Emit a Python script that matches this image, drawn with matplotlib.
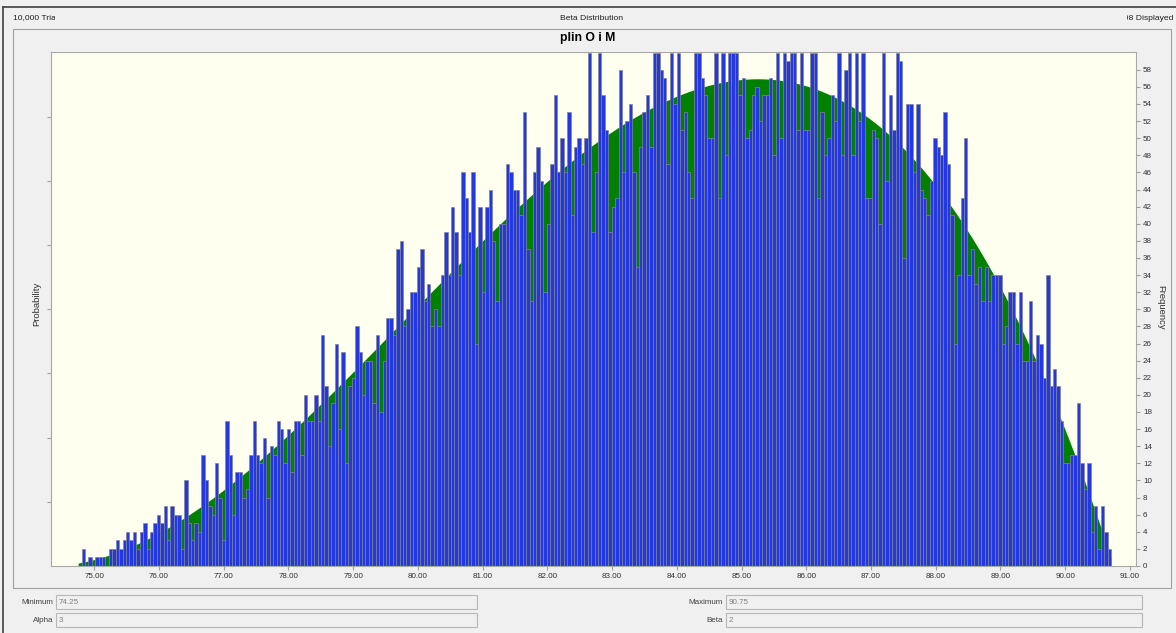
import matplotlib.pyplot as plt
import numpy as np
from math import gamma
from matplotlib.patches import Rectangle
from matplotlib.lines import Line2D
from matplotlib.transforms import Bbox

# Beta distribution parameters shown under the chart
dist_min = 74.25
dist_max = 90.75
alpha = 3
beta = 2
trials = 10000

# span covered by the histogram bars
bin_lo = 74.75
bin_hi = 90.71

# bar frequencies, left to right
freq_1 = [0, 2, 0, 1, 0, 1, 1, 1, 0, 2,
          2, 3, 2, 3, 4, 3, 4, 2, 4, 5,
          2, 4, 5, 6, 5, 7, 3, 7, 6, 6,
          2, 10, 5, 3, 5, 4, 13, 10, 7, 6,
          12, 8, 3, 17, 13, 6, 11, 11, 8, 9,
          13, 17, 13, 12, 15, 8, 14, 13, 17, 16,
          12, 16, 11, 17, 17, 13, 20, 17, 17, 20]
freq_2 = [17, 27, 21, 14, 19, 26, 16, 25, 12, 21,
          22, 28, 25, 20, 24, 24, 19, 27, 18, 24,
          29, 29, 27, 37, 38, 28, 30, 32, 32, 35,
          37, 31, 33, 28, 30, 28, 34, 39, 34, 42,
          39, 34, 46, 43, 39, 46, 26, 42, 32, 42,
          44, 38, 31, 40, 40, 47, 46, 44, 44, 41,
          53, 37, 31, 46, 49, 45, 32, 40, 47, 55,
          46, 50, 46]
freq_3 = [53, 41, 49, 50, 47, 50, 60, 39, 46, 60,
          55, 51, 39, 42, 43, 58, 46, 52, 54, 46,
          35, 49, 53, 55, 49, 60, 60, 58, 57, 47,
          60, 54, 60, 51, 53, 46, 43, 60, 60, 57,
          55, 50, 50, 60, 43, 60, 48, 60, 60, 60,
          55, 57, 50, 51, 55, 56, 52, 55, 55, 57,
          48, 60, 50, 60, 59, 60, 60, 51, 60, 51,
          51, 60, 60, 43, 53, 48, 50]
freq_4 = [55, 52, 60, 48, 58, 60, 48, 60, 52, 60,
          43, 43, 51, 50, 40, 60, 45, 55, 51, 60,
          59, 36, 54, 54, 46, 54, 44, 43, 41, 45,
          50, 49, 48, 53, 47, 41, 26, 34, 43, 50,
          34, 37, 33, 35, 31, 35, 31, 34, 34, 34,
          26, 28, 32, 32, 26, 32, 24, 24, 31, 24,
          27, 26, 22, 34, 21, 23, 21, 17, 12, 12,
          13, 13, 19, 12, 9, 12, 4, 7, 2, 7,
          4, 2]

x_ticks = np.arange(75, 92)
freq_ticks = np.arange(0, 60, 2)
prob_ticks = np.arange(7.5, 60, 7.5)

freq = np.array(freq_1 + freq_2 + freq_3 + freq_4)
n_bins = len(freq)
edges = np.linspace(bin_lo, bin_hi, n_bins + 1)
centers = (edges[:-1] + edges[1:]) / 2
width = edges[1] - edges[0]

plt.rcParams['font.family'] = ['Liberation Sans', 'DejaVu Sans']

W, H = 1176, 633
fig = plt.figure(figsize=(W / 100, H / 100), dpi=100, facecolor='#F0F0F0')


def fx(px):
    return px / W


def fy(py):
    return 1 - py / H


def box(x0, y0, x1, y1, ec, fc='none', lw=1.0):
    fig.add_artist(Rectangle((fx(x0), fy(y1)), fx(x1) - fx(x0), fy(y0) - fy(y1),
                             transform=fig.transFigure, ec=ec, fc=fc, lw=lw))


# window frame and inner panel
fig.add_artist(Line2D([fx(3), fx(3)], [fy(7), 0], transform=fig.transFigure, color='#404040', lw=1.2))
fig.add_artist(Line2D([fx(3), 1], [fy(7), fy(7)], transform=fig.transFigure, color='#404040', lw=1.2))
box(13, 29, 1171, 588, '#A0A0A0', lw=0.8)

# header line (the side cells are too narrow for their text)
t = fig.text(fx(13), fy(18), '10,000 Trials', fontsize=6.1, va='center', ha='left', color='#202020')
t.set_clip_box(Bbox([[0, 0], [54.5, H]]))
fig.text(fx(591), fy(18), 'Beta Distribution', fontsize=6.1, va='center', ha='center', color='#202020')
t = fig.text(fx(1173), fy(18), '9,998 Displayed', fontsize=6.1, va='center', ha='right', color='#202020')
t.set_clip_box(Bbox([[1127, 0], [W, H]]))

fig.text(fx(588), fy(37.5), 'plin O i M', fontsize=8.8, fontweight='bold', va='center', ha='center')

# plot area
ax = fig.add_axes([fx(51), fy(566), fx(1136) - fx(51), fy(52) - fy(566)])
ax.set_facecolor('#FFFFF0')

# fitted beta curve as a green area
xs = np.linspace(bin_lo, bin_hi, 800)
u = (xs - dist_min) / (dist_max - dist_min)
beta_fn = gamma(alpha) * gamma(beta) / gamma(alpha + beta)
pdf = u ** (alpha - 1) * (1 - u) ** (beta - 1) / beta_fn / (dist_max - dist_min)
ax.fill_between(xs, 0, pdf * trials * width, color='#008000', lw=0, zorder=1)

# histogram bars
ax.bar(centers, freq, width=width, color='#2338E0', edgecolor='#858594', linewidth=0.5, zorder=2)

ax.set_xlim(74.331, 91.095)
ax.set_ylim(0, 60.07)
ax.set_xticks(x_ticks)
ax.set_xticklabels([f'{v:.2f}' for v in x_ticks])
ax.set_yticks(prob_ticks)
ax.tick_params(axis='y', direction='out', length=3, color='#A0A0A0', labelleft=False)
ax.tick_params(axis='x', direction='out', length=3, color='#A0A0A0', labelsize=5.8,
               labelcolor='#303030', pad=2)
for s in ax.spines.values():
    s.set_color('#A8A8A8')
    s.set_linewidth(0.8)

ax2 = ax.twinx()
ax2.set_ylim(0, 60.07)
ax2.set_yticks(freq_ticks)
ax2.tick_params(axis='y', direction='out', length=3, color='#A0A0A0', labelsize=5.8,
                labelcolor='#303030', pad=2)
for s in ax2.spines.values():
    s.set_visible(False)

fig.text(fx(37), fy(304), 'Probability', rotation=90, fontsize=6.8, va='center', ha='center', color='#303030')
fig.text(fx(1161), fy(307), 'Frequency', rotation=270, fontsize=6.8, va='center', ha='center', color='#303030')

# parameter fields below the chart
fields = [('Minimum', '74.25', 53, 56, 477, 595),
          ('Alpha', '3', 53, 56, 477, 613),
          ('Maximum', '90.75', 723, 726, 1142, 595),
          ('Beta', '2', 723, 726, 1142, 613)]
for name, val, lx, x0, x1, y0 in fields:
    box(x0, y0, x1, y0 + 14, '#B8B8B8', fc='#F0F0F0', lw=0.8)
    fig.text(fx(lx), fy(y0 + 7), name, fontsize=5.8, va='center', ha='right', color='#404040')
    fig.text(fx(x0 + 3), fy(y0 + 7), val, fontsize=5.8, va='center', ha='left', color='#808080')

fig.savefig('out.png', dpi=100, facecolor=fig.get_facecolor())
